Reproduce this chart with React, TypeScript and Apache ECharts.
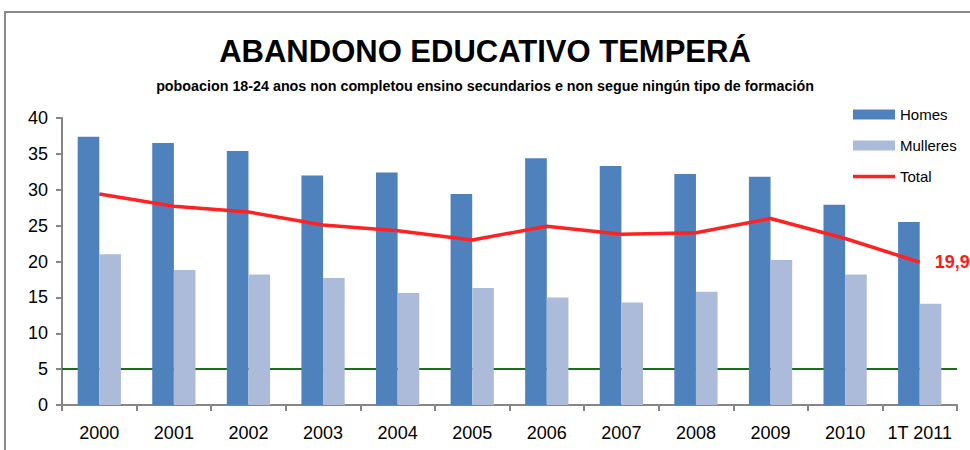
import React, { useEffect, useRef } from "react";
import * as echarts from "echarts";

const titleText = "ABANDONO EDUCATIVO TEMPERÁ";
const subtitleText =
  "poboacion 18-24 anos non completou ensino secundarios e non segue ningún tipo de formación";

const categories = ["2000", "2001", "2002", "2003", "2004", "2005", "2006", "2007", "2008", "2009", "2010", "1T 2011"];
const homes = [37.4, 36.5, 35.4, 32.0, 32.4, 29.4, 34.4, 33.3, 32.2, 31.8, 27.9, 25.5];
const mulleres = [21.0, 18.8, 18.2, 17.7, 15.6, 16.3, 15.0, 14.3, 15.8, 20.2, 18.2, 14.1];
const total = [29.4, 27.7, 26.9, 25.1, 24.3, 23.0, 24.9, 23.8, 24.0, 26.0, 23.2, 19.9];
const targetValue = 5;

const FONT = "'Liberation Sans', Arial, sans-serif";

export default function App() {
  const ref = useRef<HTMLDivElement>(null);

  useEffect(() => {
    if (!ref.current) return;
    const chart = echarts.init(ref.current, undefined, { renderer: "svg" });
    chart.setOption({
      animation: false,
      backgroundColor: "#ffffff",
      textStyle: { fontFamily: FONT },
      title: [
        {
          text: titleText,
          left: "center",
          top: 31,
          textStyle: { fontFamily: FONT, fontSize: 31, fontWeight: "bold", color: "#000" },
        },
        {
          text: subtitleText,
          left: "center",
          top: 74,
          textStyle: { fontFamily: FONT, fontSize: 14.3, fontWeight: "bold", color: "#000" },
        },
      ],
      graphic: [
        {
          type: "rect",
          z: -10,
          silent: true,
          shape: { x: 5, y: 12, width: 1000, height: 500 },
          style: { fill: "none", stroke: "#8a8a8a", lineWidth: 2 },
        },
      ],
      legend: {
        orient: "vertical",
        left: 853,
        top: 107,
        padding: 0,
        itemWidth: 42,
        itemHeight: 10,
        itemGap: 16,
        textStyle: { fontFamily: FONT, fontSize: 15, color: "#000", lineHeight: 15 },
        data: [
          { name: "Homes", icon: "rect" },
          { name: "Mulleres", icon: "rect" },
          { name: "Total", icon: "path://M0,0 L42,0 L42,3.5 L0,3.5 Z", itemStyle: { color: "#ff2222" } },
        ],
      },
      grid: { left: 62, right: 13, top: 118, bottom: 45, containLabel: false },
      xAxis: {
        type: "category",
        data: categories,
        boundaryGap: true,
        axisLine: { show: true, lineStyle: { color: "#868686", width: 2 } },
        axisTick: { show: true, alignWithLabel: false, interval: 0, length: 6, lineStyle: { color: "#868686", width: 2 } },
        axisLabel: { fontFamily: FONT, fontSize: 18, color: "#000", margin: 19, interval: 0 },
        splitLine: { show: false },
      },
      yAxis: {
        type: "value",
        min: 0,
        max: 40,
        interval: 5,
        axisLine: { show: true, lineStyle: { color: "#868686", width: 2 } },
        axisTick: { show: true, length: 6, lineStyle: { color: "#868686", width: 2 } },
        axisLabel: { fontFamily: FONT, fontSize: 18, color: "#000", margin: 14 },
        splitLine: { show: false },
      },
      series: [
        {
          name: "Homes",
          type: "bar",
          data: homes,
          barGap: "0%",
          barCategoryGap: "42%",
          itemStyle: { color: "#4f81bd" },
          z: 2,
          markLine: {
            z: 1,
            silent: true,
            symbol: ["none", "none"],
            label: { show: false },
            lineStyle: { color: "#1d6b1d", width: 2, type: "solid" },
            data: [{ yAxis: targetValue }],
          },
        },
        {
          name: "Mulleres",
          type: "bar",
          data: mulleres,
          itemStyle: { color: "#abbbd9" },
          z: 2,
        },
        {
          name: "Total",
          type: "line",
          data: total,
          z: 3,
          symbol: "none",
          showSymbol: false,
          lineStyle: { color: "#ff2222", width: 3.5 },
          itemStyle: { color: "#ff2222" },
          endLabel: {
            show: true,
            distance: 15,
            formatter: (p: any) => String(p.value).replace(".", ","),
            color: "#ff1a1a",
            fontFamily: FONT,
            fontWeight: "bold",
            fontSize: 18,
          },
        },
      ],
    });
    return () => chart.dispose();
  }, []);

  return (
    <div
      ref={ref}
      style={{ position: "absolute", left: 0, top: 0, width: 970, height: 450, overflow: "hidden" }}
    />
  );
}
